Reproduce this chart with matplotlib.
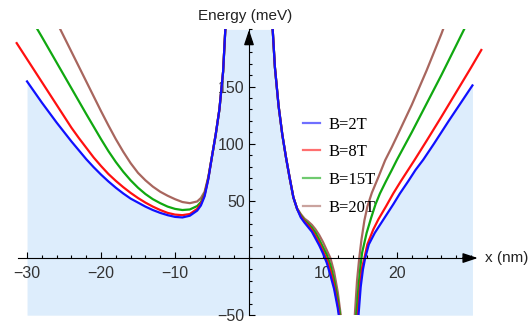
import numpy as np
import matplotlib.pyplot as plt
from matplotlib.ticker import FixedLocator, MultipleLocator

# ---- data (energy in meV, x in nm) ----
labels = ["B=2T", "B=8T", "B=15T", "B=20T"]
colors = ["#1010ff", "#ff1010", "#10a810", "#a8665e"]

# left branch (up to the pole near x=-3)
xl_2 = [-30, -28, -26, -24, -22, -21, -20, -19, -18, -17, -16, -15, -14, -13, -12, -11, -10, -9, -8, -7,
        -6.5, -6, -5.5, -5, -4.5, -4, -3.5, -3.2, -3.0]
yl_2 = [154.5, 136, 118.5, 102, 86.5, 79.5, 73, 67, 61.5, 56.5, 52, 48.5, 45, 42, 39.5, 37.5, 36, 35.5, 37, 41.5,
        46, 54, 69, 89, 108, 130, 163, 200, 225]
xl_8 = [-31.4, -30, -28, -26, -24, -23, -22, -21, -20, -19, -18, -17, -16, -15, -14, -13, -12, -11, -10, -9, -8, -7,
        -6.5, -6, -5.5, -5, -4.5, -4, -3.5, -3.2, -3.0]
yl_8 = [188, 174, 154, 134, 114, 105, 96.5, 88, 80.5, 73.5, 67.5, 62, 57, 52.5, 48.5, 45, 42, 39.5, 38, 37.5, 38.5, 43,
        47.5, 55, 69.5, 89, 108, 130, 163, 200, 225]
xl_15 = [-29.5, -28, -26, -24, -22, -21, -20, -19, -18, -17, -16, -15, -14, -13, -12, -11, -10, -9, -8, -7,
         -6.5, -6, -5.5, -5, -4.5, -4, -3.5, -3.2, -3.0]
yl_15 = [210, 193.5, 171, 148.5, 126, 115, 104, 93.5, 84, 75.5, 68, 61.5, 56, 51.5, 48, 45, 43, 42, 42.5, 45.5,
         49, 56, 70, 89, 108, 130, 163, 200, 225]
xl_20 = [-26.4, -26, -25, -24, -23, -22, -21, -20, -19, -18, -17, -16, -15, -14, -13, -12, -11, -10, -9, -8, -7,
         -6.5, -6, -5.5, -5, -4.5, -4, -3.5, -3.2, -3.0]
yl_20 = [211.5, 206.5, 193.5, 180.5, 167.5, 154.5, 141.5, 128.5, 116, 104, 93, 83, 74.5, 68, 62.5, 58, 54.5, 51.5, 49, 48, 49.5,
         52.5, 58, 71, 89, 108, 130, 163, 200, 225]

# middle branch (pole near x=3 down to x~12)
xm = [3.0, 3.2, 3.5, 4, 4.5, 5, 5.5, 6, 6.5, 7, 7.5, 8, 8.5, 9, 9.5, 10, 10.5, 11, 11.5, 12, 12.4]
ym_2 = [225, 200, 167, 133, 108, 88, 70, 53, 43, 35.5, 31, 27, 23, 17, 11, 4, -4, -15, -27, -44, -62]
ym_8 = [225, 200, 167, 133, 108, 88, 70, 53, 43, 36.5, 32, 28.5, 24.5, 19, 13, 6, -1, -11, -24, -41, -58]
ym_15 = [225, 200, 167, 133, 108, 88, 70, 53, 43, 37.5, 33, 30, 26.5, 22, 16, 9.5, 3, -6, -19, -36, -54]
ym_20 = [225, 200, 167, 133, 108, 88, 70, 53, 43.5, 38.5, 34.5, 32, 29, 25, 20, 14, 7, 0, -12, -30, -50]

# right branch (from x~14.5 upward)
xr_2 = [14.8, 15.1, 15.4, 15.7, 16.2, 17, 17.7, 18.5, 19.5, 20.4, 21.5, 22.5, 23.55, 25, 27, 28.5, 30.2]
yr_2 = [-50, -25, -10, 0, 12, 22, 29, 37, 47, 56.5, 67, 77, 86, 100, 120, 134.5, 151]
xr_8 = [14.7, 15, 15.3, 15.6, 16, 16.8, 17.5, 18.5, 19.5, 20.5, 21.5, 22.4, 24, 26, 28, 30, 31.4]
yr_8 = [-50, -25, -8, 0, 12, 25, 34, 45, 56.5, 67, 77, 86, 102.5, 123.5, 145, 166.5, 182]
xr_15 = [14.5, 14.8, 15.1, 15.3, 15.9, 16.5, 17.1, 17.7, 18.5, 19.3, 20, 22, 24, 26, 28, 29.3]
yr_15 = [-50, -25, -5, 5, 22, 35, 47, 56.5, 67, 77, 86, 110, 135, 160, 186, 203]
xr_20 = [14.3, 14.6, 14.9, 15.2, 15.6, 16, 16.6, 17.5, 18.4, 19.3, 20, 22, 24, 26, 26.4]
yr_20 = [-50, -20, 0, 16, 33, 45, 57, 71, 85.5, 97, 106.5, 134, 164, 196, 203]

left = [(xl_2, yl_2), (xl_8, yl_8), (xl_15, yl_15), (xl_20, yl_20)]
mid = [ym_2, ym_8, ym_15, ym_20]
right = [(xr_2, yr_2), (xr_8, yr_8), (xr_15, yr_15), (xr_20, yr_20)]

ylo, yhi = -50, 200

plt.rcParams['font.family'] = ['Liberation Sans', 'DejaVu Sans']
fig = plt.figure(figsize=(5.3, 3.23), dpi=100)
W, H = 530, 323
ax = fig.add_axes([15.2 / W, (H - 315.2) / H, 467.6 / W, 285.8 / H])
ax.set_xlim(-31.6, 31.6)
ax.set_ylim(ylo, yhi)

# shaded region under the B=2T curve
shade = "#ddedfc"
xs = np.concatenate([xl_2, xm])
ys = np.clip(np.concatenate([yl_2, ym_2]), ylo, yhi)
ax.fill_between(xs, ylo, ys, color=shade, lw=0, zorder=0)
ax.fill_between(xr_2, ylo, np.clip(yr_2, ylo, yhi), color=shade, lw=0, zorder=0)

# curves (B=20T drawn first so blue stays on top)
for i in [3, 2, 1, 0]:
    c = colors[i]
    ax.plot(*left[i], color=c, lw=1.6, zorder=3, solid_joinstyle='round')
    ax.plot(xm, mid[i], color=c, lw=1.6, zorder=3, solid_joinstyle='round')
    ax.plot(*right[i], color=c, lw=1.6, zorder=3, solid_joinstyle='round')

# legend
handles = [plt.Line2D([], [], color=c, lw=1.6, alpha=0.6) for c in colors]
ax.legend(handles, labels, loc='upper left', bbox_to_anchor=(0.615, 0.695),
          frameon=False, prop={'family': 'Liberation Serif', 'size': 12},
          handlelength=1.05, handletextpad=0.5, labelspacing=0.70,
          borderpad=0, borderaxespad=0)

# Mathematica-style axes through the origin
for s in ['top', 'right']:
    ax.spines[s].set_visible(False)
ax.spines['left'].set_position(('data', 0))
ax.spines['bottom'].set_position(('data', 0))
ax.spines['left'].set_bounds(ylo, yhi)
ax.spines['bottom'].set_bounds(-31.2, 30)
ax.spines['left'].set_zorder(5)
ax.spines['bottom'].set_zorder(5)
ax.annotate('', xy=(31.3, 0), xytext=(28.5, 0),
            arrowprops=dict(arrowstyle='-|>,head_length=0.9,head_width=0.3', color='black', lw=1),
            annotation_clip=False, zorder=6)
ax.annotate('', xy=(0, 202), xytext=(0, 185),
            arrowprops=dict(arrowstyle='-|>,head_length=0.9,head_width=0.3', color='black', lw=1),
            annotation_clip=False, zorder=6)

ax.xaxis.set_major_locator(FixedLocator([-30, -20, -10, 10, 20]))
ax.xaxis.set_minor_locator(MultipleLocator(2))
ax.yaxis.set_major_locator(FixedLocator([-50, 50, 100, 150]))
ax.yaxis.set_minor_locator(MultipleLocator(10))
ax.tick_params(which='both', direction='in', color='black', width=0.8,
               labelsize=11.5, labelcolor='#333333')
ax.tick_params(which='major', length=4.5)
ax.tick_params(which='minor', length=2.5)
ax.tick_params(axis='x', pad=6)
ax.tick_params(axis='y', pad=3)

fig.text(245 / W, 1 - 16 / H, "Energy (meV)", ha='center', va='center', fontsize=11, color='#222222')
fig.text(485 / W, 1 - 258 / H, "x (nm)", ha='left', va='center', fontsize=11, color='#222222')

fig.savefig("out.png", dpi=100)
